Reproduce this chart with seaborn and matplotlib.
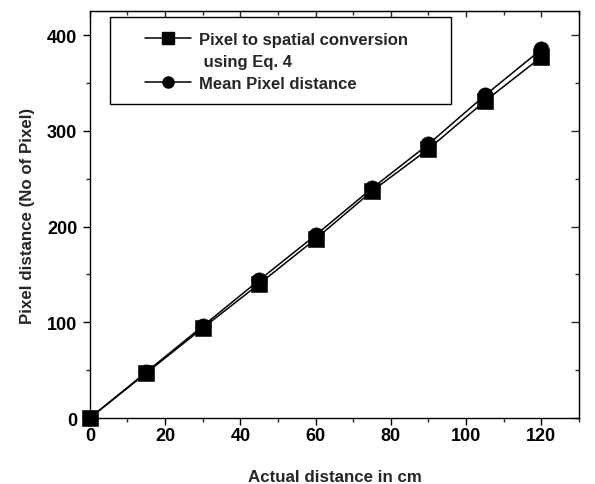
import matplotlib
matplotlib.use("Agg")
import matplotlib.pyplot as plt
import seaborn as sns
import pandas as pd
from matplotlib.ticker import MultipleLocator
from matplotlib.lines import Line2D
from matplotlib.patches import Rectangle

actual_cm = [0, 15, 30, 45, 60, 75, 90, 105, 120]
pixel_conversion = [0, 47, 94, 140, 187, 237, 281, 331, 377]
mean_pixel = [0, 48, 96, 144, 191, 240, 286, 337, 385]
series_names = ["Pixel to spatial conversion", "Mean Pixel distance"]
legend_continuation = " using Eq. 4"

sns.set_style("white")
plt.rcParams['font.family'] = ['Liberation Sans', 'DejaVu Sans']
plt.rcParams['font.weight'] = 'bold'

df = pd.DataFrame({
    "x": actual_cm * 2,
    "y": pixel_conversion + mean_pixel,
    "series": [series_names[0]] * len(actual_cm) + [series_names[1]] * len(actual_cm),
})

fig = plt.figure(figsize=(5.95, 4.85), dpi=100)
ax = fig.add_axes([0.151, 0.136, 0.822, 0.839])

sns.lineplot(data=df, x="x", y="y", hue="series", style="series",
             markers={series_names[0]: "s", series_names[1]: "o"},
             dashes=False, palette={series_names[0]: "black", series_names[1]: "black"},
             markersize=11, linewidth=1.1, markeredgecolor="black", markeredgewidth=0.4,
             clip_on=False, legend=False, ax=ax)

ax.set_xlim(0, 130)
ax.set_ylim(0, 425)
ax.xaxis.set_major_locator(MultipleLocator(20))
ax.xaxis.set_minor_locator(MultipleLocator(10))
ax.yaxis.set_major_locator(MultipleLocator(100))
ax.yaxis.set_minor_locator(MultipleLocator(50))
for s in ax.spines.values():
    s.set_color("black")
    s.set_linewidth(1.0)
    s.set_visible(True)

ax.tick_params(axis="both", which="major", direction="out", length=5, width=1,
               labelsize=13, colors="black", bottom=True, left=True)
ax.tick_params(axis="both", which="minor", direction="out", length=3, width=1,
               bottom=True, left=True)
ax.tick_params(axis="x", which="major", pad=1.5)
ax.tick_params(axis="y", which="major", pad=4)
ax.tick_params(axis="both", which="both", top=False, right=False)

axt = ax.secondary_xaxis("top")
axt.xaxis.set_major_locator(MultipleLocator(20))
axt.xaxis.set_minor_locator(MultipleLocator(10))
axt.tick_params(which="major", direction="in", length=4, width=1, labeltop=False)
axt.tick_params(which="minor", direction="in", length=3, width=1)
axr = ax.secondary_yaxis("right")
axr.yaxis.set_major_locator(MultipleLocator(100))
axr.yaxis.set_minor_locator(MultipleLocator(50))
axr.tick_params(which="major", direction="in", length=6, width=1, labelright=False)
axr.tick_params(which="minor", direction="in", length=3, width=1)

for lbl in ax.get_xticklabels() + ax.get_yticklabels():
    lbl.set_fontweight("bold")

ax.set_xlabel("Actual distance in cm", fontsize=12.2, fontweight="bold", labelpad=18)
ax.set_ylabel("Pixel distance (No of Pixel)", fontsize=12.2, fontweight="bold", labelpad=9)

h1 = Line2D([], [], color="black", lw=1.1, marker="s", markersize=8)
hblank = Line2D([], [], linestyle="none")
h2 = Line2D([], [], color="black", lw=1.1, marker="o", markersize=8)
leg = ax.legend([h1, hblank, h2], [series_names[0], legend_continuation, series_names[1]],
                loc="upper left", bbox_to_anchor=(0.112, 0.948),
                frameon=False, handlelength=2.8, borderpad=0, borderaxespad=0,
                labelspacing=0.42, handletextpad=0.45,
                prop={"weight": "bold", "size": 12})
ax.add_patch(Rectangle((0.041, 0.771), 0.697, 0.214, transform=ax.transAxes,
                       fill=False, edgecolor="black", lw=1.0, zorder=5, clip_on=False))

fig.savefig("out.png", dpi=100)
